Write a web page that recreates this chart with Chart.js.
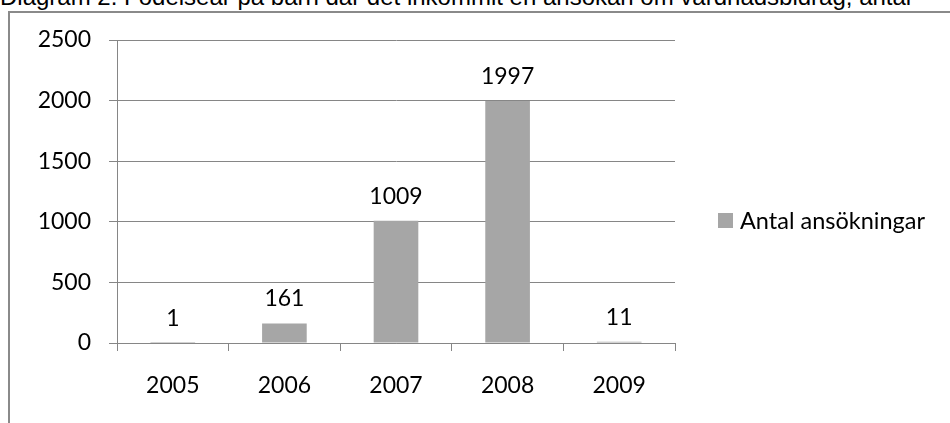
<!DOCTYPE html>
<html><head><meta charset="utf-8">
<script src="https://cdn.jsdelivr.net/npm/chart.js@4/dist/chart.umd.min.js"></script>
<style>
html,body{margin:0;padding:0;width:950px;height:423px;overflow:hidden;background:#fff;}
#title{position:absolute;left:0;top:-15px;font:24px/24px "Liberation Sans",Arial,sans-serif;color:#000;white-space:nowrap;}
#frame{position:absolute;left:8px;top:11px;width:1000px;height:1000px;border:2px solid #8a8a8a;box-sizing:border-box;}
#wrap{position:absolute;left:0;top:0;width:950px;height:423px;}
</style></head><body>
<div id="frame"></div>
<div id="title">Diagram 2. Födelseår på barn där det inkommit en ansökan om vårdnadsbidrag, antal</div>
<div id="wrap"><canvas id="c" width="950" height="423"></canvas></div>
<script>
const categories = ['2005', '2006', '2007', '2008', '2009'];
const seriesName = 'Antal ansökningar';
const values = [1, 161, 1009, 1997, 11];
const yMin = 0, yMax = 2500, yStep = 500;

const FONT = 'Lato';
const GRID = '#868686';
const BAR = '#a6a6a6';

const valueLabels = {
  id: 'valueLabels',
  afterDatasetsDraw(chart) {
    const ctx = chart.ctx;
    const ds = chart.data.datasets[0];
    const meta = chart.getDatasetMeta(0);
    ctx.save();
    ctx.font = '23px ' + FONT;
    ctx.fillStyle = '#000';
    ctx.textAlign = 'center';
    ctx.textBaseline = 'alphabetic';
    meta.data.forEach((bar, i) => {
      ctx.fillText(String(ds.data[i]), bar.x, bar.y - 17);
    });
    ctx.restore();
  }
};

const sideLegend = {
  id: 'sideLegend',
  afterDraw(chart) {
    const ctx = chart.ctx;
    const ds = chart.data.datasets[0];
    const x = chart.chartArea.right + 43;
    const y = 213;
    ctx.save();
    ctx.fillStyle = ds.backgroundColor;
    ctx.fillRect(x, y, 15, 15);
    ctx.font = '23.5px ' + FONT;
    ctx.fillStyle = '#000';
    ctx.textAlign = 'left';
    ctx.textBaseline = 'alphabetic';
    ctx.fillText(ds.label, x + 22, y + 16);
    ctx.restore();
  }
};

function draw() {
  new Chart(document.getElementById('c'), {
    type: 'bar',
    data: {
      labels: categories,
      datasets: [{
        label: seriesName,
        data: values,
        backgroundColor: BAR,
        borderWidth: 0,
        barPercentage: 0.4,
        categoryPercentage: 1.0
      }]
    },
    options: {
      responsive: false,
      devicePixelRatio: 1,
      animation: false,
      events: [],
      layout: { padding: { left: 0, top: 40, right: 275, bottom: 0 } },
      plugins: { legend: { display: false }, tooltip: { enabled: false }, title: { display: false } },
      scales: {
        x: {
          grid: { offset: true, drawOnChartArea: false, drawTicks: true, tickLength: 8, color: GRID, lineWidth: 1 },
          border: { color: GRID, width: 1 },
          ticks: { color: '#000', font: { family: FONT, size: 23 }, padding: 21, maxRotation: 0 },
          afterFit(s) { s.height = 80; }
        },
        y: {
          min: yMin, max: yMax,
          grid: { color: GRID, lineWidth: 1, tickLength: 8, drawTicks: true },
          border: { color: GRID, width: 1 },
          ticks: { stepSize: yStep, color: '#000', font: { family: FONT, size: 23 }, padding: 18,
                   callback: (v) => String(v) },
          afterFit(s) { s.width = 117; }
        }
      }
    },
    plugins: [valueLabels, sideLegend]
  });
}
document.fonts.load('23px ' + FONT).then(draw, draw);
</script>
</body></html>
